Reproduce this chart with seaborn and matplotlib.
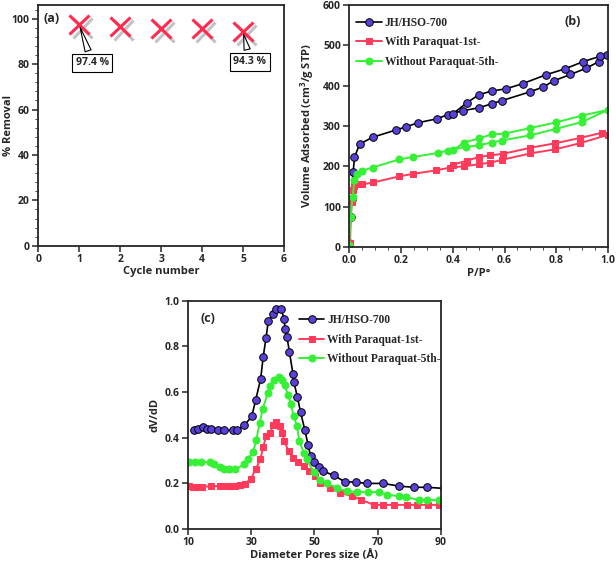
import numpy as np
import pandas as pd
import matplotlib
matplotlib.use("Agg")
import matplotlib.pyplot as plt
import matplotlib.patheffects as pe
from matplotlib.ticker import MultipleLocator
import seaborn as sns

# %% Data
cycles = [1, 2, 3, 4, 5]
removal = [97.4, 96.5, 95.6, 95.6, 94.3]

# N2 isotherms: adsorption branch followed by desorption branch
jh_p = [0.0, 0.005, 0.01, 0.015, 0.02, 0.04, 0.09, 0.18, 0.22, 0.265, 0.34, 0.38, 0.44,
        0.50, 0.55, 0.59, 0.70, 0.75, 0.79, 0.855, 0.915, 0.965, 0.995,
        0.97, 0.905, 0.835, 0.76, 0.67, 0.605, 0.55, 0.50, 0.455, 0.40]
jh_v = [10, 75, 120, 185, 222, 255, 272, 290, 298, 308, 318, 328, 338,
        345, 355, 363, 385, 397, 412, 428, 443, 460, 475,
        473, 460, 442, 427, 405, 392, 387, 377, 358, 330]

wp_p = [0.0, 0.003, 0.006, 0.01, 0.015, 0.02, 0.035, 0.05, 0.093, 0.193, 0.245, 0.337, 0.39,
        0.445, 0.50, 0.545, 0.59, 0.70, 0.795, 0.89, 1.0,
        0.975, 0.89, 0.795, 0.70, 0.595, 0.545, 0.50, 0.455, 0.40]
wp_v = [0, 10, 73, 112, 141, 150, 155, 155, 160, 175, 181, 190, 197,
        200, 205, 209, 216, 232, 242, 257, 278,
        283, 270, 257, 246, 231, 227, 223, 214, 204]

wo_p = [0.0, 0.005, 0.013, 0.02, 0.03, 0.05, 0.09, 0.193, 0.245, 0.343, 0.38,
        0.45, 0.50, 0.55, 0.59, 0.70, 0.80, 0.90, 1.0,
        0.90, 0.80, 0.70, 0.60, 0.55, 0.50, 0.445, 0.40]
wo_v = [5, 73, 124, 166, 182, 189, 197, 217, 223, 233, 239,
        248, 252, 259, 264, 277, 293, 310, 340,
        326, 309, 295, 281, 279, 269, 259, 240]

# Pore size distributions
jh_d = [11.9, 13.1, 14.7, 16.0, 17.4, 19.4, 21.3, 24.2, 25.5, 27.8, 30.2, 31.4, 33.0, 33.8,
        34.7, 35.4, 37.0, 37.9, 39.5, 40.4, 40.7, 41.3, 42.1, 43.2, 43.5, 44.6, 45.6, 47.0,
        48.0, 48.8, 49.7, 51.3, 52.7, 56.1, 59.5, 63.2, 66.6, 71.7, 76.8, 81.4, 85.6, 91.0]
jh_dv = [0.435, 0.438, 0.447, 0.439, 0.438, 0.432, 0.432, 0.432, 0.435, 0.453, 0.493, 0.563,
         0.657, 0.753, 0.838, 0.909, 0.943, 0.961, 0.961, 0.920, 0.877, 0.841, 0.774, 0.679,
         0.642, 0.578, 0.511, 0.431, 0.366, 0.318, 0.293, 0.272, 0.253, 0.234, 0.207, 0.204,
         0.199, 0.199, 0.187, 0.182, 0.182, 0.177]

wp_d = [10.2, 11.6, 12.6, 13.6, 14.6, 17.4, 20.0, 21.0, 22.3, 23.6, 24.9, 26.5, 27.9, 29.9,
        31.4, 32.9, 33.8, 34.7, 36.0, 37.0, 37.9, 39.0, 39.8, 40.5, 41.8, 43.2, 44.8, 46.6,
        48.2, 50.1, 51.8, 55.0, 58.0, 61.9, 64.7, 68.7, 71.8, 75.0, 79.2, 82.3, 86.0, 89.2]
wp_dv = [0.187, 0.184, 0.184, 0.184, 0.184, 0.187, 0.187, 0.187, 0.187, 0.187, 0.187, 0.191,
         0.197, 0.219, 0.260, 0.304, 0.358, 0.406, 0.420, 0.455, 0.467, 0.450, 0.420, 0.384,
         0.340, 0.311, 0.292, 0.274, 0.253, 0.231, 0.201, 0.180, 0.158, 0.143, 0.128, 0.105,
         0.105, 0.105, 0.105, 0.105, 0.105, 0.105]

wo_d = [10.5, 12.3, 14.2, 17.1, 18.4, 20.0, 21.3, 22.9, 25.0, 27.8, 29.0, 30.6, 31.6, 32.7,
        33.6, 35.3, 36.0, 37.1, 38.7, 39.7, 40.6, 41.6, 42.6, 43.4, 44.5, 45.2, 46.7, 47.6,
        49.7, 51.8, 53.9, 57.1, 60.3, 63.4, 66.9, 70.3, 72.9, 76.6, 79.0, 82.9, 85.6, 89.3]
wo_dv = [0.292, 0.292, 0.292, 0.292, 0.282, 0.272, 0.264, 0.260, 0.260, 0.282, 0.307, 0.336,
         0.388, 0.464, 0.523, 0.596, 0.625, 0.654, 0.666, 0.654, 0.629, 0.588, 0.546, 0.493,
         0.450, 0.384, 0.333, 0.304, 0.250, 0.216, 0.201, 0.177, 0.165, 0.161, 0.161, 0.161,
         0.150, 0.143, 0.140, 0.126, 0.126, 0.126]

labels = ["JH/HSO-700", "With Paraquat-1st-", "Without Paraquat-5th-"]

# %% Style
sns.set_style("ticks")
plt.rcParams["font.family"] = ["Open Sans", "DejaVu Sans"]
plt.rcParams["font.weight"] = "bold"
plt.rcParams["axes.labelweight"] = "bold"
plt.rcParams["axes.linewidth"] = 1.3
plt.rcParams["xtick.major.width"] = 1.1
plt.rcParams["ytick.major.width"] = 1.1
plt.rcParams["xtick.labelsize"] = 7.5
plt.rcParams["ytick.labelsize"] = 7.5
plt.rcParams["mathtext.fontset"] = "custom"
plt.rcParams["mathtext.bf"] = "Open Sans:bold"

purple = "#5a3fd9"
red = "#ff3a5a"
green = "#35f035"
legend_font = {"family": "Liberation Serif", "weight": "bold", "size": 8.3}

fig = plt.figure(figsize=(6.16, 5.65), dpi=100)
ax_a = fig.add_axes([0.062, 0.565, 0.399, 0.426])
ax_b = fig.add_axes([0.567, 0.563, 0.420, 0.428])
ax_c = fig.add_axes([0.305, 0.064, 0.411, 0.404])

# %% (a) removal vs cycle
ax_a.plot(cycles, removal, linestyle="none", marker="x", markersize=14, mew=2.2,
          color="#ff2a50",
          path_effects=[pe.SimpleLineShadow(offset=(2.5, -2.5), shadow_color="#9a9a9a", alpha=0.6),
                        pe.Normal()])
ax_a.set_xlim(0, 6)
ax_a.set_ylim(0, 106)
ax_a.yaxis.set_major_locator(MultipleLocator(20))
ax_a.yaxis.set_minor_locator(MultipleLocator(4))
ax_a.set_xlabel("Cycle number", fontsize=8, labelpad=1)
ax_a.set_ylabel("% Removal", fontsize=8)
ax_a.yaxis.set_label_coords(-0.098, 0.5)
ax_a.text(0.02, 0.97, "(a)", transform=ax_a.transAxes, fontsize=9, fontweight="bold", va="top")
box = dict(boxstyle="square,pad=0.35", fc="white", ec="black", lw=0.8)
wedge = dict(arrowstyle="wedge,tail_width=0.6,shrink_factor=0.5", fc="white", ec="black", lw=0.8)
ax_a.annotate(f"{removal[0]} %", xy=(cycles[0], removal[0]), xytext=(1.32, 80.5),
              ha="center", va="center", fontsize=7.5, bbox=box, arrowprops=wedge)
ax_a.annotate(f"{removal[4]} %", xy=(cycles[4], removal[4]), xytext=(5.17, 81),
              ha="center", va="center", fontsize=7.5, bbox=box, arrowprops=wedge)

# %% (b) isotherms
sns.lineplot(x=jh_p, y=jh_v, sort=False, estimator=None, ax=ax_b, color="black", lw=1.2,
             marker="o", markersize=5.5, markerfacecolor=purple, markeredgecolor="black",
             markeredgewidth=0.7, label=labels[0])
sns.lineplot(x=wp_p, y=wp_v, sort=False, estimator=None, ax=ax_b, color=red, lw=1.4,
             marker="s", markersize=5, markerfacecolor=red, markeredgecolor=red, label=labels[1])
sns.lineplot(x=wo_p, y=wo_v, sort=False, estimator=None, ax=ax_b, color=green, lw=1.4,
             marker="o", markersize=5, markerfacecolor=green, markeredgecolor=green, label=labels[2])
ax_b.set_xlim(0, 1.0)
ax_b.set_ylim(0, 600)
ax_b.xaxis.set_major_locator(MultipleLocator(0.2))
ax_b.xaxis.set_minor_locator(MultipleLocator(0.05))
ax_b.xaxis.set_major_formatter(plt.FormatStrFormatter("%.1f"))
ax_b.yaxis.set_major_locator(MultipleLocator(100))
ax_b.set_xlabel("P/P°", fontsize=8, labelpad=1)
ax_b.set_ylabel("Volume Adsorbed (cm$^\\mathbf{3}$/g STP)", fontsize=8)
ax_b.yaxis.set_label_coords(-0.13, 0.5)
ax_b.text(0.83, 0.96, "(b)", transform=ax_b.transAxes, fontsize=9, fontweight="bold", va="top")
ax_b.legend(loc="upper left", frameon=False, prop=legend_font, handlelength=2.2,
            handletextpad=0.25, labelspacing=0.65, borderaxespad=0.0,
            bbox_to_anchor=(0.01, 0.97))

# %% (c) pore size distribution
sns.lineplot(x=jh_d, y=jh_dv, sort=False, estimator=None, ax=ax_c, color="black", lw=1.2,
             marker="o", markersize=5.5, markerfacecolor=purple, markeredgecolor="black",
             markeredgewidth=0.7, label=labels[0])
sns.lineplot(x=wp_d, y=wp_dv, sort=False, estimator=None, ax=ax_c, color=red, lw=1.4,
             marker="s", markersize=5, markerfacecolor=red, markeredgecolor=red, label=labels[1])
sns.lineplot(x=wo_d, y=wo_dv, sort=False, estimator=None, ax=ax_c, color=green, lw=1.4,
             marker="o", markersize=5, markerfacecolor=green, markeredgecolor=green, label=labels[2])
ax_c.set_xlim(10, 90)
ax_c.set_ylim(0, 1.0)
ax_c.set_xticks([10, 30, 50, 70, 90])
ax_c.yaxis.set_major_locator(MultipleLocator(0.2))
ax_c.yaxis.set_major_formatter(plt.FormatStrFormatter("%.1f"))
ax_c.set_xlabel("Diameter Pores size (Å)", fontsize=8, labelpad=1)
ax_c.set_ylabel("dV/dD", fontsize=8)
ax_c.yaxis.set_label_coords(-0.11, 0.5)
ax_c.text(0.05, 0.95, "(c)", transform=ax_c.transAxes, fontsize=9, fontweight="bold", va="top")
ax_c.legend(loc="upper left", frameon=False, prop=legend_font, handlelength=2.2,
            handletextpad=0.25, labelspacing=0.65, borderaxespad=0.0,
            bbox_to_anchor=(0.42, 0.96))

for ax in (ax_a, ax_b, ax_c):
    ax.tick_params(direction="out", length=4, pad=2)
    ax.tick_params(which="minor", direction="out", length=2.5)
    for s in ax.spines.values():
        s.set_visible(True)

fig.savefig("out.png", dpi=100)
